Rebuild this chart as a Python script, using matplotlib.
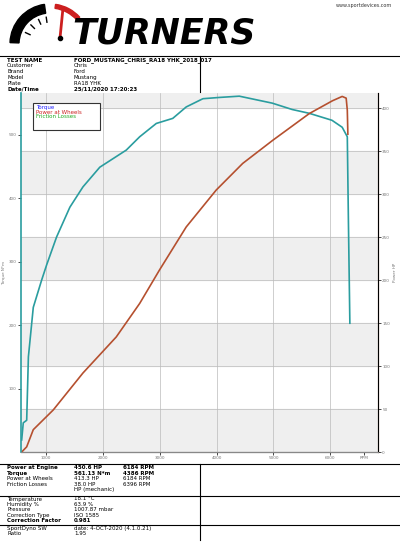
import matplotlib
matplotlib.use("Agg")
import matplotlib.pyplot as plt
from matplotlib.patches import Wedge, Rectangle
import numpy as np

torque_rpm = [572, 600, 660, 690, 776, 923, 1011, 1186, 1420, 1650, 1946, 2412, 2648, 2940, 3230, 3466, 3760, 4050, 4400, 4980, 5330, 5630, 6030, 6210, 6300, 6320, 6345]
torque_nm = [19, 46, 50, 150, 228, 271, 295, 339, 386, 418, 449, 476, 497, 518, 526, 544, 557, 559, 561, 550, 540, 534, 523, 512, 497, 361, 203]
power_rpm = [572, 660, 776, 1128, 1650, 2236, 2648, 2997, 3466, 3994, 4460, 4990, 5630, 6040, 6210, 6280, 6300, 6310]
power_hp = [0, 6, 26, 49, 92, 134, 173, 212, 262, 305, 336, 363, 394, 409, 414, 412, 398, 370]
rpm_ticks = [1000, 2000, 3000, 4000, 5000, 6000]
legend_labels = ["Torque", "Power at Wheels", "Friction Losses"]
legend_colors = ["#2222ff", "#cc2222", "#22aa22"]
info_keys = ["TEST NAME", "Customer", "Brand", "Model", "Plate", "Date/Time"]
info_vals = ["FORD_MUSTANG_CHRIS_RA18 YHK_2018_017", "Chris", "Ford", "Mustang", "RA18 YHK", "25/11/2020 17:20:23"]
res_keys = ["Power at Engine", "Torque", "Power at Wheels", "Friction Losses"]
res_vals = ["450.6 HP", "561.13 N*m", "413.3 HP", "38.0 HP"]
res_rpm = ["6184 RPM", "4386 RPM", "6184 RPM", "6396 RPM"]
env_keys = ["Temperature", "Humidity %", "Pressure", "Correction Type", "Correction Factor"]
env_vals = ["18.1 °C", "63.9 %", "1007.87 mbar", "ISO 1585", "0.981"]
sw_keys = ["SportDyno SW", "Ratio"]
sw_vals = ["date: 4-OCT-2020 (4.1.0.21)", "1.95"]

W, H = 400, 546
fig = plt.figure(figsize=(4, 5.46), dpi=100)
fy = lambda y: 1 - y / H

# main chart
ax = fig.add_axes([21 / W, fy(452), 357 / W, 359 / H])
ax2 = ax.twinx()
ax.set_xlim(560, 6840)
ax.set_ylim(0, 566)
ax2.set_ylim(0, 418)
for lo in [0, 100, 200, 300, 400]:
    ax2.axhspan(lo, lo + 50, color="#efefef", zorder=0)
for t in range(50, 418, 50):
    ax2.axhline(t, color="#bbbbbb", lw=0.5, zorder=0)
for t in rpm_ticks:
    ax.axvline(t, color="#bbbbbb", lw=0.5, zorder=0)
ax.set_zorder(ax2.get_zorder() + 1); ax.patch.set_visible(False)

ax.plot(torque_rpm, torque_nm, color="#2a9d9f", lw=1.2)
ax.plot(power_rpm, np.array(power_hp) * 566 / 418, color="#b5502f", lw=1.2)

ax.set_xticks(rpm_ticks + [6600])
ax.set_xticklabels([str(t) for t in rpm_ticks] + ["RPM"], fontsize=3, color="#777")
ax.set_yticks([100, 200, 300, 400, 500])
ax.set_yticklabels(["100", "200", "300", "400", "500"], fontsize=3, color="#777")
ax2.set_yticks(range(0, 418, 50))
ax2.set_yticklabels([str(t) for t in range(0, 418, 50)], fontsize=3, color="#777")
ax.tick_params(length=2, width=0.5, pad=1)
ax2.tick_params(length=2, width=0.5, pad=1)
for a in (ax, ax2):
    a.spines["top"].set_visible(False)
ax.spines["left"].set_color("#2a9d9f"); ax.spines["left"].set_linewidth(1.2)
ax2.spines["right"].set_color("#b5502f")
ax.spines["bottom"].set_color("#888")
ax2.spines["left"].set_visible(False)
ax.set_ylabel("Torque N*m", fontsize=3, color="#777", labelpad=2)
ax2.set_ylabel("Power HP", fontsize=3, color="#777", labelpad=2)

# overlay axes in pixel coords (y downward)
ov = fig.add_axes([0, 0, 1, 1])
ov.set_zorder(20)
ov.set_xlim(0, W); ov.set_ylim(H, 0); ov.axis("off")

# logo
cx, cy = 50, 44
ov.add_patch(Wedge((cx, cy), 40, 182, 262, width=9, color="black"))
ov.add_patch(Wedge((cx, cy), 40, 278, 318, width=4, color="#cc1f1f"))
for a in np.deg2rad([205, 225, 245, 262]):
    ov.plot([cx + 27 * np.cos(a), cx + 22 * np.cos(a)],
            [cy + 27 * np.sin(a), cy + 22 * np.sin(a)], color="black", lw=1)
ov.plot([60, 63], [38, 8], color="#cc1f1f", lw=2)
ov.plot([60], [38], "o", color="black", ms=3)
ov.text(72, 44, "TURNERS", fontsize=25, fontweight="bold", fontstyle="italic",
        family="DejaVu Sans", va="baseline", ha="left")
ov.text(392, 3, "www.sportdevices.com", fontsize=3.5, ha="right", va="top", color="#333")

# info table
ov.plot([0, 400], [56, 56], color="black", lw=0.8)
ov.plot([200, 200], [56, 92], color="black", lw=0.8)
for i, (k, v) in enumerate(zip(info_keys, info_vals)):
    y = 60 + i * 5.8
    bold = "bold" if i in (0, 5) else "normal"
    ov.text(7, y, k, fontsize=4, va="center", fontweight=bold)
    ov.text(74, y, v, fontsize=4, va="center", fontweight=bold)

# bottom tables
ov.plot([0, 400], [464, 464], color="black", lw=0.8)
ov.plot([0, 400], [496, 496], color="black", lw=0.8)
ov.plot([0, 400], [525, 525], color="black", lw=0.8)
ov.plot([200, 200], [464, 540], color="black", lw=0.8)
for i, (k, v, r) in enumerate(zip(res_keys, res_vals, res_rpm)):
    y = 467.5 + i * 5.6
    b = "bold" if i < 2 else "normal"
    ov.text(7, y, k, fontsize=4, va="center", fontweight=b)
    ov.text(74, y, v, fontsize=4, va="center", fontweight=b)
    ov.text(123, y, r, fontsize=4, va="center", fontweight=b)
ov.text(74, 467.5 + 4 * 5.6, "HP (mechanic)", fontsize=4, va="center")
for i, (k, v) in enumerate(zip(env_keys, env_vals)):
    y = 499 + i * 5.4
    b = "bold" if i == 4 else "normal"
    ov.text(7, y, k, fontsize=4, va="center", fontweight=b)
    ov.text(74, y, v, fontsize=4, va="center", fontweight=b)
for i, (k, v) in enumerate(zip(sw_keys, sw_vals)):
    y = 528.5 + i * 5.4
    ov.text(7, y, k, fontsize=4, va="center")
    ov.text(74, y, v, fontsize=4, va="center")

# legend box
ov.add_patch(Rectangle((33, 103), 67, 27, facecolor="white", edgecolor="#333", lw=0.8, zorder=5))
for i, (l, c) in enumerate(zip(legend_labels, legend_colors)):
    ov.text(36, 107 + i * 5, l, fontsize=4, color=c, va="center", zorder=6)

fig.savefig("out.png", dpi=100)
